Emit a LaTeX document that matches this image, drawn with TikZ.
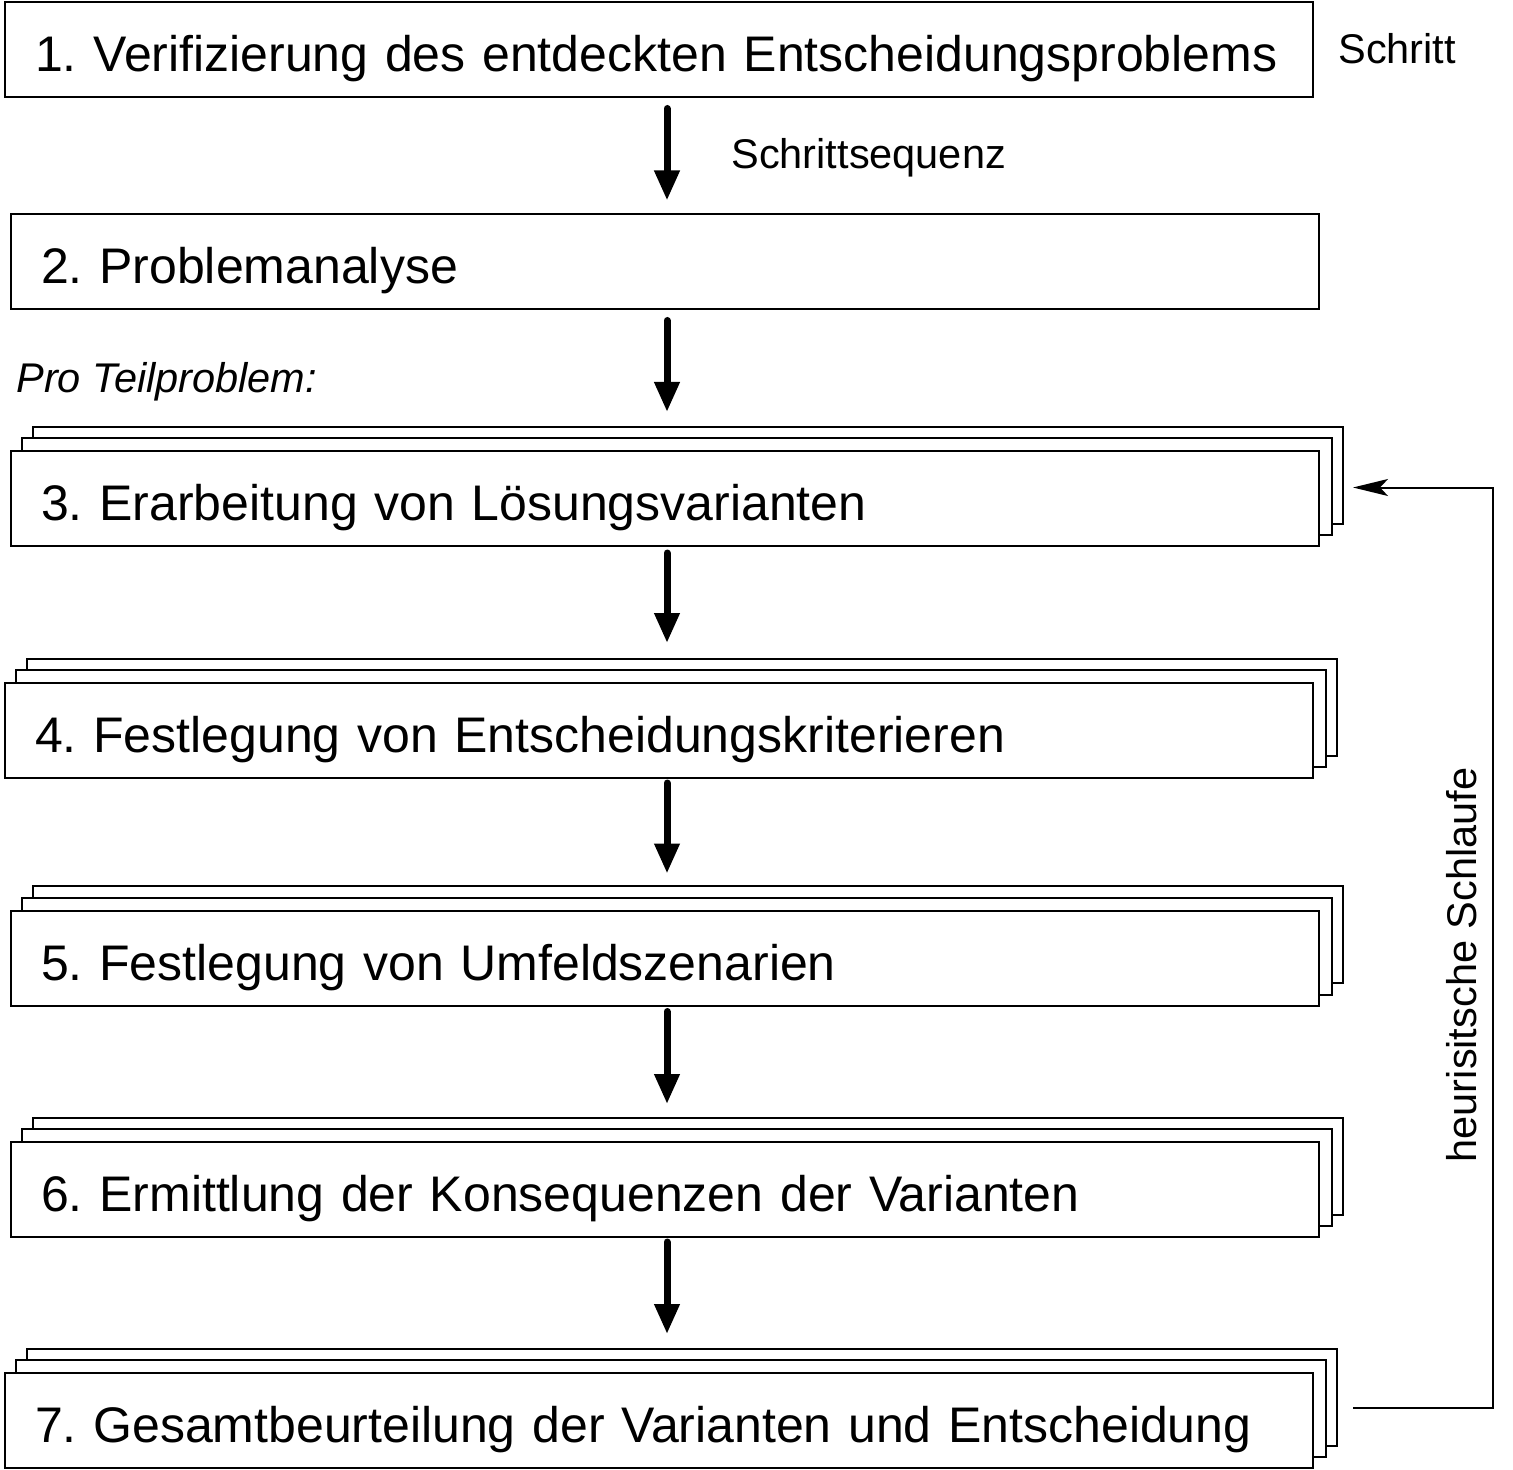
\documentclass[tikz,border=0pt]{standalone}
\usepackage{fontspec}
\setmainfont{Liberation Sans}
\usetikzlibrary{arrows.meta,calc,backgrounds}
\tikzset{
  boxline/.style={draw=black,line width=1pt,fill=white},
  stepbox/.style={boxline,minimum width=654pt,minimum height=47.5pt,
    text width=624pt,inner xsep=15pt,inner ysep=0pt,align=left,
    text height=25pt,text depth=3pt,
    font=\fontsize{25pt}{30pt}\selectfont\frenchspacing},
  bigarrow/.style={line width=3.5pt,line cap=round,-{Triangle[length=15pt,width=12pt]}},
  fbarrow/.style={line width=1pt,-{Stealth[length=17.5pt,width=8.5pt,inset=4pt]}},
  small/.style={font=\fontsize{20.75pt}{25pt}\selectfont,inner sep=0pt},
}
\newcommand\mystack[1]{%
  \begin{pgfonlayer}{background}
  \foreach \d in {23.4,11.7}
    \draw[boxline] ($(#1.south west)+(\d,-\d)$) rectangle ($(#1.north east)+(\d,-\d)$);
  \end{pgfonlayer}}
\begin{document}
\begin{tikzpicture}[x=0.5pt,y=-0.5pt]
\useasboundingbox (0,0) rectangle (1513,1470);
\node[stepbox] (b1) at (659,50) {\mbox{1. Verifizierung des entdeckten Entscheidungsproblems}};
\node[stepbox] (b2) at (665,262) {\mbox{2. Problemanalyse}};
\node[stepbox] (b3) at (665,498.5) {\mbox{3. Erarbeitung von Lösungsvarianten}};
\node[stepbox] (b4) at (659,730.5) {\mbox{4. Festlegung von Entscheidungskriterieren}};
\node[stepbox] (b5) at (665,958) {\mbox{5. Festlegung von Umfeldszenarien}};
\node[stepbox] (b6) at (665,1189.5) {\mbox{6. Ermittlung der Konsequenzen der Varianten}};
\node[stepbox] (b7) at (659,1420.5) {\mbox{7. Gesamtbeurteilung der Varianten und Entscheidung}};
\mystack{b3}\mystack{b4}\mystack{b5}\mystack{b6}\mystack{b7}

\coordinate (ax) at (667,0);
\coordinate (loopx) at (1493,0);
\draw[bigarrow] ($(b1.south -| ax)+(0,10)$) -- ($(b2.north -| ax)+(0,-13)$);
\draw[bigarrow] ($(b2.south -| ax)+(0,10)$) -- ($(b3.north -| ax)+(0,-38)$);
\draw[bigarrow] ($(b3.south -| ax)+(0,6)$) -- ($(b4.north -| ax)+(0,-39)$);
\draw[bigarrow] ($(b4.south -| ax)+(0,4)$) -- ($(b5.north -| ax)+(0,-36)$);
\draw[bigarrow] ($(b5.south -| ax)+(0,5)$) -- ($(b6.north -| ax)+(0,-37)$);
\draw[bigarrow] ($(b6.south -| ax)+(0,4)$) -- ($(b7.north -| ax)+(0,-38)$);

\coordinate (fs) at ($(b7.east)+(39,-12.5)$);
\coordinate (fe) at ($(b3.east)+(33,-11)$);
\draw[fbarrow] (fs) -| (fe -| loopx) -- (fe);

\node[small,anchor=base west] (schritt) at (1338,64) {Schritt};
\node[small,anchor=base west] (seq) at (731,169) {Schrittsequenz};
\node[small,anchor=base west,font=\fontsize{20.75pt}{25pt}\selectfont\itshape] (pro) at (16,393) {Pro Teilproblem:};
\node[small,anchor=base,rotate=90] (heur) at (1476,965) {heurisitsche Schlaufe};
\end{tikzpicture}
\end{document}
